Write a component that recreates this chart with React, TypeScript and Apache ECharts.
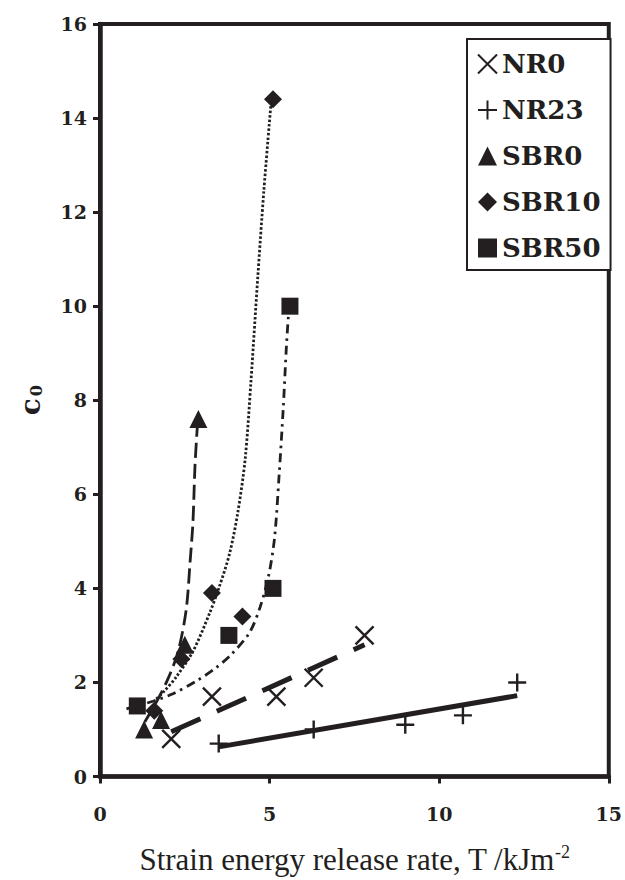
import React, { useEffect, useRef } from "react";
import * as echarts from "echarts";

// Measured points
const nr0X = [2.1, 3.3, 5.2, 6.3, 7.8];
const nr0Y = [0.8, 1.7, 1.7, 2.1, 3.0];
const nr23X = [3.5, 6.3, 9.0, 10.7, 12.3];
const nr23Y = [0.7, 1.0, 1.1, 1.3, 2.0];
const sbr0X = [1.3, 1.8, 2.5, 2.9];
const sbr0Y = [1.0, 1.2, 2.8, 7.6];
const sbr10X = [1.6, 2.4, 3.3, 4.2, 5.1];
const sbr10Y = [1.4, 2.5, 3.9, 3.4, 14.4];
const sbr50X = [1.1, 3.8, 5.1, 5.6];
const sbr50Y = [1.5, 3.0, 4.0, 10.0];

// Fitted curves
const nr0FitX = [2.1, 7.8];
const nr0FitY = [0.95, 2.8];
const nr23FitX = [3.5, 12.3];
const nr23FitY = [0.63, 1.72];
const sbr0FitX = [1.32, 1.66, 2.0, 2.3, 2.54, 2.66, 2.74, 2.8, 2.87];
const sbr0FitY = [1.16, 1.58, 2.07, 2.65, 3.54, 4.6, 5.4, 6.6, 7.45];
const sbr10FitX = [1.66, 1.9, 2.25, 2.74, 3.23, 3.52, 3.82, 4.06, 4.28, 4.45, 4.65, 4.83, 5.04];
const sbr10FitY = [1.65, 1.82, 2.12, 2.66, 3.47, 4.04, 4.74, 5.6, 6.75, 8.4, 10.6, 12.45, 14.3];
const sbr50FitX = [0.78, 1.56, 2.15, 2.84, 3.4, 3.85, 4.4, 4.72, 4.98, 5.15, 5.28, 5.4, 5.5, 5.56];
const sbr50FitY = [1.44, 1.6, 1.76, 2.03, 2.3, 2.58, 3.05, 3.6, 4.3, 5.1, 6.4, 7.8, 9.2, 9.85];

const seriesNames = ["NR0", "NR23", "SBR0", "SBR10", "SBR50"];

const INK = "#231f20";
const zip = (xs: number[], ys: number[]) => xs.map((x, i) => [x, ys[i]]);

export default function App() {
  const ref = useRef<HTMLDivElement>(null);
  useEffect(() => {
    if (!ref.current) return;
    const chart = echarts.init(ref.current, undefined, { renderer: "svg" });
    const tickFont = {
      color: INK,
      fontFamily: "DejaVu Serif",
      fontWeight: "bold" as const,
      fontSize: 19,
    };
    const fit = (xs: number[], ys: number[], type: any, width: number, smooth: number | false) => ({
      type: "line",
      data: zip(xs, ys),
      showSymbol: false,
      symbol: "none",
      smooth,
      silent: true,
      z: 1,
      lineStyle: { color: INK, width, type, cap: "butt", opacity: 1 },
    });
    const scatter = (name: string, xs: number[], ys: number[], symbol: string, size: number, stroke: boolean) => ({
      type: "scatter",
      name,
      data: zip(xs, ys),
      symbol,
      symbolSize: size,
      z: 3,
      itemStyle: stroke
        ? { color: "rgba(0,0,0,0)", borderColor: INK, borderWidth: 2.4, opacity: 1 }
        : { color: INK, borderWidth: 0, opacity: 1 },
    });
    chart.setOption({
      animation: false,
      backgroundColor: "#ffffff",
      grid: {
        left: 100,
        right: 15,
        top: 24,
        bottom: 95,
        show: true,
        borderColor: INK,
        borderWidth: 4,
      },
      legend: {
        data: seriesNames,
        orient: "vertical",
        left: 467,
        top: 39,
        padding: [11, 10, 8, 10],
        itemGap: 18,
        itemWidth: 19,
        itemHeight: 19,
        borderColor: INK,
        borderWidth: 2,
        backgroundColor: "#ffffff",
        textStyle: {
          color: INK,
          fontFamily: "DejaVu Serif",
          fontWeight: "bold",
          fontSize: 26,
          lineHeight: 28,
        },
      },
      xAxis: {
        type: "value",
        min: 0,
        max: 15,
        interval: 5,
        splitLine: { show: false },
        axisLine: { show: true, onZero: false, lineStyle: { color: INK, width: 4.5 } },
        axisTick: { show: true, length: 7, lineStyle: { color: INK, width: 3 } },
        axisLabel: { ...tickFont, margin: 28 },
        name: "Strain energy release rate, T /kJm{sup|-2}",
        nameLocation: "middle",
        nameGap: 66,
        nameTextStyle: {
          color: INK,
          fontFamily: "Liberation Serif",
          fontSize: 31,
          rich: {
            sup: { fontFamily: "Liberation Serif", fontSize: 18, color: INK, padding: [0, 0, 16, 0] },
          },
        },
      },
      yAxis: {
        type: "value",
        min: 0,
        max: 16,
        interval: 2,
        splitLine: { show: false },
        axisLine: { show: true, onZero: false, lineStyle: { color: INK, width: 4.5 } },
        axisTick: { show: true, length: 7, lineStyle: { color: INK, width: 3 } },
        axisLabel: { ...tickFont, margin: 13 },
        name: "c{sub|0}",
        nameLocation: "middle",
        nameRotate: 90,
        nameGap: 56,
        nameTextStyle: {
          color: INK,
          fontFamily: "DejaVu Serif",
          fontWeight: "bold",
          fontSize: 28,
          rich: {
            sub: { fontFamily: "DejaVu Serif", fontWeight: "bold", fontSize: 16, color: INK, padding: [12, 0, 0, 2] },
          },
        },
      },
      series: [
        fit(nr0FitX, nr0FitY, [32, 18], 5, false),
        fit(nr23FitX, nr23FitY, "solid", 5, false),
        fit(sbr0FitX, sbr0FitY, [15, 6], 2.8, 0.3),
        fit(sbr10FitX, sbr10FitY, [2.5, 2], 2.8, 0.3),
        fit(sbr50FitX, sbr50FitY, [9, 5, 2.5, 5], 2.8, 0.3),
        scatter("NR0", nr0X, nr0Y, "path://M0,0L10,10M10,0L0,10", 18, true),
        scatter("NR23", nr23X, nr23Y, "path://M5,0L5,10M0,5L10,5", 18, true),
        scatter("SBR0", sbr0X, sbr0Y, "triangle", 18, false),
        scatter("SBR10", sbr10X, sbr10Y, "diamond", 18, false),
        scatter("SBR50", sbr50X, sbr50Y, "rect", 17, false),
      ],
    });
    return () => chart.dispose();
  }, []);
  return (
    <div
      ref={ref}
      style={{ position: "fixed", left: 0, top: 0, width: 625, height: 880, background: "#fff" }}
    />
  );
}
